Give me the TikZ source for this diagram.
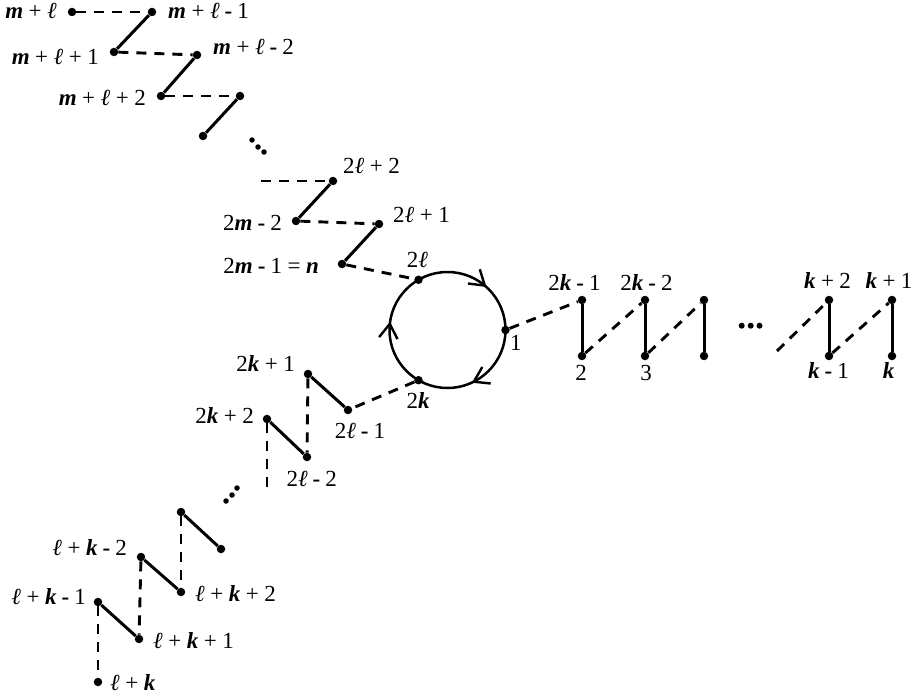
\documentclass[tikz,border=0pt]{standalone}
\usepackage{fontspec}
\setmainfont{Liberation Serif}
\newcommand\bi[1]{\textbf{\textit{#1}}}
\newcommand\LL{\textit{ℓ}}
\newcommand\Pl{\hspace{0.24em}+\hspace{0.24em}}
\newcommand\Mn{\hspace{0.22em}\textbf{-}\hspace{0.22em}}
\newcommand\Eq{\hspace{0.24em}=\hspace{0.24em}}
\begin{document}
\begin{tikzpicture}[x=1pt,y=-1pt,
  dotn/.style={circle,fill,inner sep=0pt,minimum size=8.5pt},
  sdot/.style={circle,fill,inner sep=0pt,minimum size=5.5pt},
  lab/.style={inner sep=0pt,font=\fontsize{23}{27}\selectfont},
  sol/.style={line width=3pt},
  dsh/.style={line width=2.9pt,dash pattern=on 10pt off 8pt},
  arr/.style={line width=2.4pt,line join=miter}]
\useasboundingbox (0,0) rectangle (915,698);

% ---------- top chain ----------
\node[dotn] (a1) at (72,12) {};
\node[dotn] (a2) at (152,12) {};
\node[dotn] (a3) at (114,52) {};
\node[dotn] (a4) at (197,55) {};
\node[dotn] (a5) at (161,96) {};
\node[dotn] (a6) at (240,96) {};
\node[dotn] (a7) at (203,136) {};
\node[sdot] (e1) at (252,140) {};
\node[sdot] (e2) at (258,147) {};
\node[sdot] (e3) at (264,152) {};
\coordinate (c1) at (261,181);
\node[dotn] (a8) at (333,181) {};
\node[dotn] (a9) at (296,221) {};
\node[dotn] (a10) at (379,224) {};
\node[dotn] (a11) at (342,264) {};

\draw[dsh] (a1) -- (a2);
\draw[sol] (a2) -- (a3);
\draw[dsh] (a3) -- (a4);
\draw[sol] (a4) -- (a5);
\draw[dsh] (a5) -- (a6);
\draw[sol] (a6) -- (a7);
\draw[dsh] (c1) -- (a8);
\draw[sol] (a8) -- (a9);
\draw[dsh] (a9) -- (a10);
\draw[sol] (a10) -- (a11);

\node[lab,anchor=base east] (la1) at (57,19) {\bi{m}\Pl\LL};
\node[lab,anchor=base west] (la2) at (168,19) {\bi{m}\Pl\LL\Mn1};
\node[lab,anchor=base east] (la3) at (99,65) {\bi{m}\Pl\LL\Pl1};
\node[lab,anchor=base west] (la4) at (213,55) {\bi{m}\Pl\LL\Mn2};
\node[lab,anchor=base east] (la5) at (146,106) {\bi{m}\Pl\LL\Pl2};
\node[lab,anchor=base west] (la8) at (343,173) {2\LL\Pl2};
\node[lab,anchor=base east] (la9) at (282,230) {2\bi{m}\Mn2};
\node[lab,anchor=base west] (la10) at (393,222) {2\LL\Pl1};
\node[lab,anchor=base east] (la11) at (319,273) {2\bi{m}\Mn1\Eq\bi{n}};

% ---------- circle ----------
\coordinate (C) at (447.5,330);
\draw[line width=2.5pt] (C) circle[radius=58pt];
\node[dotn] (p1) at (505.5,330) {};
\node[dotn] (p2l) at (418.5,279.8) {};
\node[dotn] (p2k) at (418.5,380.2) {};
\draw[arr] (467.9,283.5) -- (484.8,285.6) -- (479.8,269.3);
\draw[arr] (397.5,339.1) -- (389.8,323.9) -- (379.1,337.1);
\draw[arr] (482.3,367.0) -- (473.8,381.7) -- (490.7,383.5);
\draw[dsh] (a11) -- (p2l);
\node[lab,anchor=base] (lp2l) at (417.5,267.3) {2\LL};
\node[lab,anchor=base west] (lp1) at (510,350) {1};
\node[lab,anchor=base] (lp2k) at (418,408.3) {2\bi{k}};

% ---------- right chain ----------
\node[dotn] (b1) at (582,300) {};
\node[dotn] (b2) at (582,356) {};
\node[dotn] (b3) at (645,300) {};
\node[dotn] (b4) at (645,356) {};
\node[dotn] (b5) at (704,300) {};
\node[dotn] (b6) at (704,356) {};
\node[sdot,minimum size=6pt] (r1) at (741.7,325.7) {};
\node[sdot,minimum size=6pt] (r2) at (750.7,325.7) {};
\node[sdot,minimum size=6pt] (r3) at (759.5,325.7) {};
\coordinate (c2) at (777,351);
\node[dotn] (b7) at (829,300) {};
\node[dotn] (b8) at (829,356) {};
\node[dotn] (b9) at (892,300) {};
\node[dotn] (b10) at (892,356) {};

\draw[dsh] (p1) -- (b1);
\draw[sol] (b1) -- (b2);
\draw[dsh] (b2) -- (b3);
\draw[sol] (b3) -- (b4);
\draw[dsh] (b4) -- (b5);
\draw[sol] (b5) -- (b6);
\draw[dsh] (c2) -- (b7);
\draw[sol] (b7) -- (b8);
\draw[dsh] (b8) -- (b9);
\draw[sol] (b9) -- (b10);

\node[lab,anchor=base] (lb1) at (574.5,290) {2\bi{k}\Mn1};
\node[lab,anchor=base] (lb2) at (581,380) {2};
\node[lab,anchor=base] (lb3) at (646.5,290) {2\bi{k}\Mn2};
\node[lab,anchor=base] (lb4) at (646,380) {3};
\node[lab,anchor=base] (lb7) at (827.5,288) {\bi{k}\Pl2};
\node[lab,anchor=base] (lb8) at (828.5,378) {\bi{k}\Mn1};
\node[lab,anchor=base] (lb9) at (889,288) {\bi{k}\Pl1};
\node[lab,anchor=base] (lb10) at (888.5,378) {\bi{k}};

% ---------- lower-left chain ----------
\node[dotn] (d1) at (348,410) {};
\node[dotn] (d2) at (308,374) {};
\node[dotn] (d3) at (307,457) {};
\node[dotn] (d4) at (267,419) {};
\coordinate (c3) at (267,491);
\node[sdot] (f1) at (226,501) {};
\node[sdot] (f2) at (232,495) {};
\node[sdot] (f3) at (237,488) {};
\node[dotn] (d5) at (181,512) {};
\node[dotn] (d6) at (221,549) {};
\node[dotn] (d7) at (181,592) {};
\node[dotn] (d8) at (141,557) {};
\node[dotn] (d9) at (139,639) {};
\node[dotn] (d10) at (98,602) {};
\node[dotn] (d11) at (98,682) {};

\draw[dsh] (p2k) -- (d1);
\draw[sol] (d2) -- (d1);
\draw[dsh] (d2) -- (d3);
\draw[sol] (d4) -- (d3);
\draw[dsh] (d4) -- (c3);
\draw[sol] (d5) -- (d6);
\draw[dsh] (d5) -- (d7);
\draw[sol] (d8) -- (d7);
\draw[dsh] (d8) -- (d9);
\draw[sol] (d10) -- (d9);
\draw[dsh] (d10) -- (d11);

\node[lab,anchor=base] (ld1) at (360,438.3) {2\LL\Mn1};
\node[lab,anchor=base east] (ld2) at (295,371.7) {2\bi{k}\Pl1};
\node[lab,anchor=base] (ld3) at (311.7,486.7) {2\LL\Mn2};
\node[lab,anchor=base east] (ld4) at (254,423.3) {2\bi{k}\Pl2};
\node[lab,anchor=base west] (ld7) at (195,601.7) {\LL\Pl\bi{k}\Pl2};
\node[lab,anchor=base east] (ld8) at (127,555) {\LL\Pl\bi{k}\Mn2};
\node[lab,anchor=base west] (ld9) at (153,648.3) {\LL\Pl\bi{k}\Pl1};
\node[lab,anchor=base east] (ld10) at (86,604) {\LL\Pl\bi{k}\Mn1};
\node[lab,anchor=base west] (ld11) at (110,690) {\LL\Pl\bi{k}};
\end{tikzpicture}
\end{document}
